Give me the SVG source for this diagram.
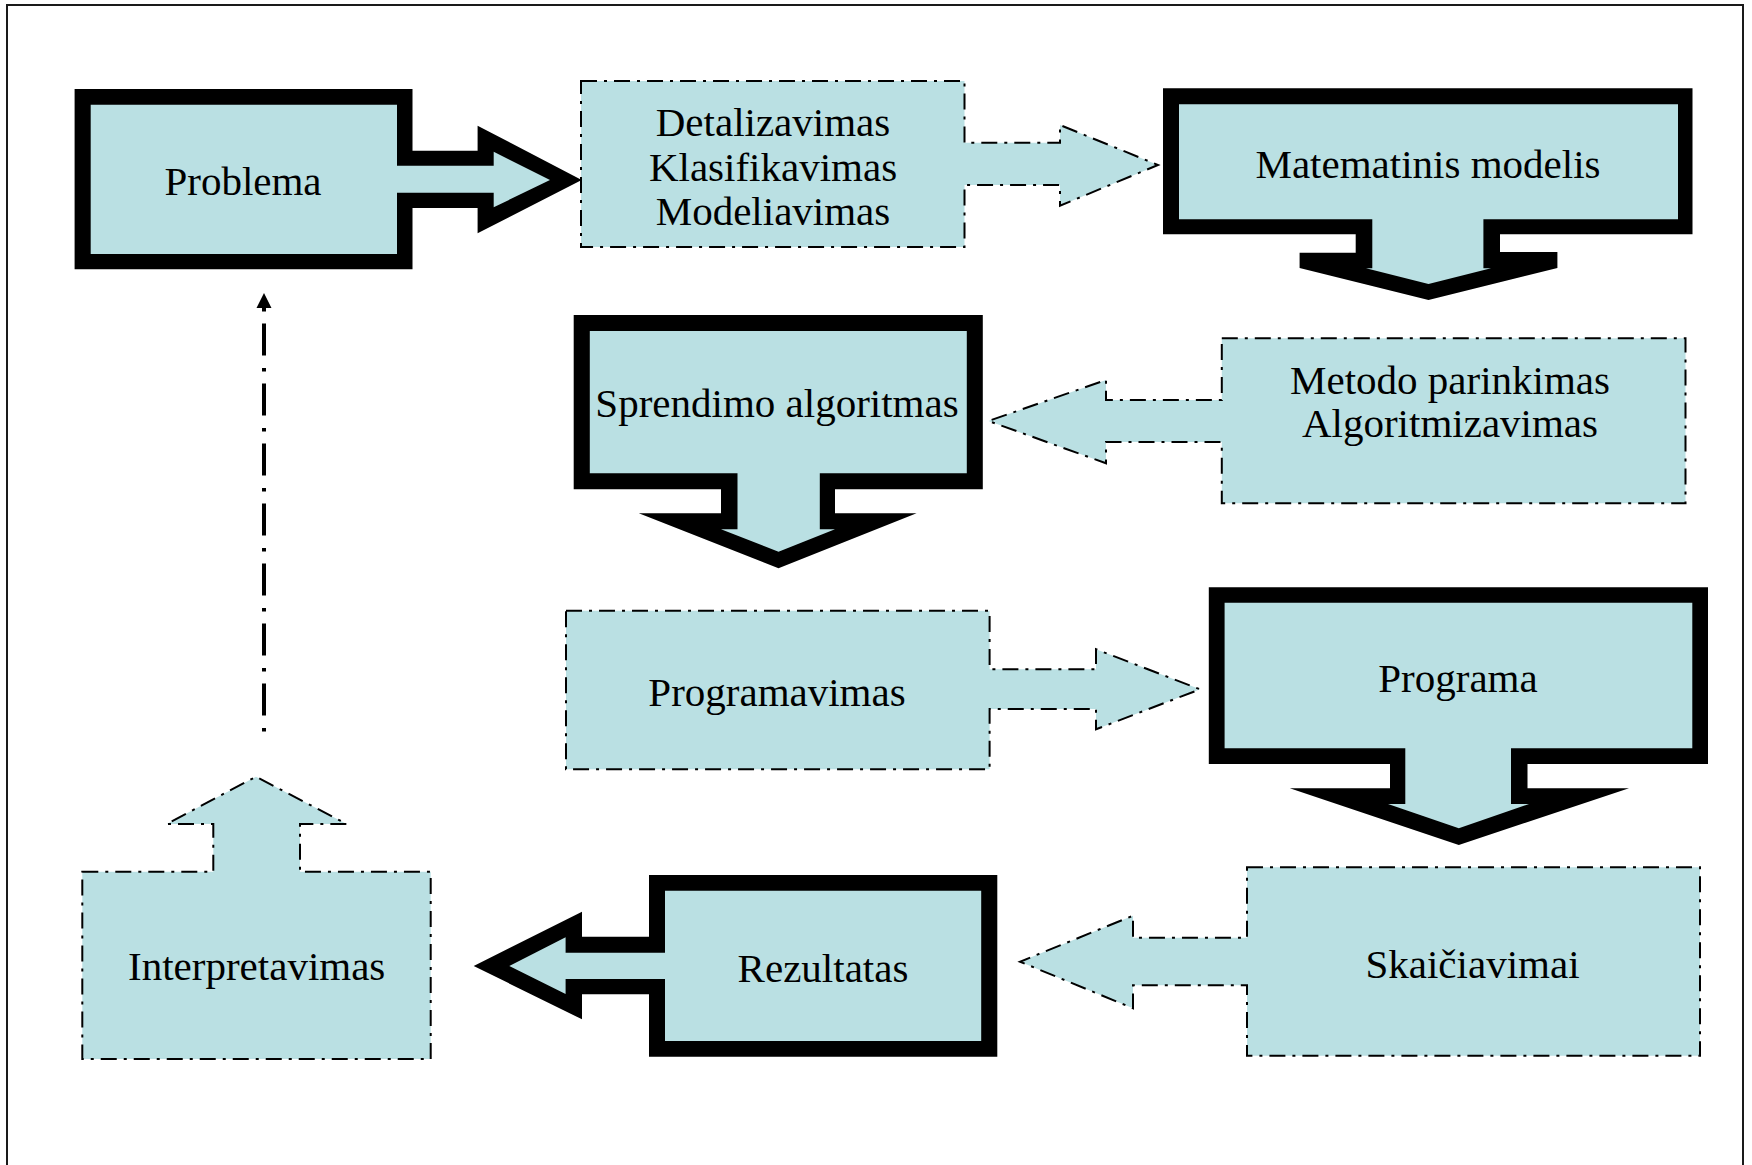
<svg xmlns="http://www.w3.org/2000/svg" width="1752" height="1165" viewBox="0 0 1752 1165">
<style>
.frame{fill:none;stroke:#1a1a1a;stroke-width:2}
.outer{fill:#000}
.inner{fill:#BAE0E3}
.dash{fill:#BAE0E3;stroke:#000;stroke-width:2;stroke-dasharray:16 7 3 7;stroke-linejoin:miter}
.t{font-family:"Liberation Serif","DejaVu Serif",serif;font-size:41px;text-anchor:middle;fill:#000}
.conn{fill:none;stroke:#000;stroke-width:4;stroke-dasharray:3.5 12.5 32 12}
</style>
<defs>
<marker id="ah" markerWidth="20" markerHeight="16" viewBox="0 0 20 16" refX="0" refY="8" orient="auto" markerUnits="userSpaceOnUse">
<path d="M0 6 L3 6 L3 0.5 L18 8 L3 15.5 L3 10 L0 10 Z" fill="#000"/>
</marker>
</defs>
<rect class="frame" x="7" y="5" width="1736" height="1180"/>

<g id="connectors">
<path class="conn" d="M264 731.5 L264 311" marker-end="url(#ah)"/>
</g>

<g id="problema">
<path class="outer" d="M74.6 89 L412.5 89 L412.5 150.7 L477.6 150.7 L477.6 125.7 L581.7 180 L477.6 233.3 L477.6 208 L412.5 208 L412.5 269.3 L74.6 269.3 Z"/>
<path class="inner" d="M90.7 104.7 L397 104.7 L397 165.7 L493.7 165.7 L493.7 151.7 L550 180 L493.7 207.3 L493.7 192.7 L397 192.7 L397 254 L90.7 254 Z"/>
<text class="t" x="243" y="194.5">Problema</text>
</g>

<g id="detalizavimas">
<path class="dash" d="M581 81 L964.5 81 L964.5 142.7 L1060 142.7 L1060 125 L1158 165 L1060 205.7 L1060 185 L964.5 185 L964.5 247 L581 247 Z"/>
<text class="t" x="773" y="136">Detalizavimas</text>
<text class="t" x="773" y="180.5">Klasifikavimas</text>
<text class="t" x="773" y="225">Modeliavimas</text>
</g>

<g id="matematinis-modelis">
<path class="outer" d="M1163 88.3 L1692.5 88.3 L1692.5 234.3 L1500 234.3 L1500 252 L1557.4 252 L1557.4 268 L1428.5 300 L1299.6 268 L1299.6 252.7 L1355.7 252.7 L1355.7 234.3 L1163 234.3 Z"/>
<path class="inner" d="M1179 104.3 L1678 104.3 L1678 219.3 L1483.4 219.3 L1483.4 268.3 L1491 268.3 L1428.5 284 L1366 268.3 L1372.3 268.3 L1372.3 219.3 L1179 219.3 Z"/>
<text class="t" x="1428" y="177.5">Matematinis modelis</text>
</g>

<g id="sprendimo-algoritmas">
<path class="outer" d="M573.7 315 L982.8 315 L982.8 489.3 L835 489.3 L835 513.3 L916.6 513.3 L778.5 568.3 L638.8 513.3 L721 513.3 L721 489.3 L573.7 489.3 Z"/>
<path class="inner" d="M589.8 331 L966.8 331 L966.8 473.3 L819.8 473.3 L819.8 529.3 L835 529.3 L778.5 551.7 L721 529.3 L737.5 529.3 L737.5 473.3 L589.8 473.3 Z"/>
<text class="t" x="777" y="417">Sprendimo algoritmas</text>
</g>

<g id="metodo-parinkimas">
<path class="dash" d="M1221.8 338.3 L1685.5 338.3 L1685.5 503.3 L1221.8 503.3 L1221.8 442 L1106 442 L1106 463.3 L988.5 421 L1106 380 L1106 400 L1221.8 400 Z"/>
<text class="t" x="1450" y="394">Metodo parinkimas</text>
<text class="t" x="1450" y="436.5">Algoritmizavimas</text>
</g>

<g id="programavimas">
<path class="dash" d="M566 610.7 L989.6 610.7 L989.6 669.3 L1096 669.3 L1096 649.3 L1200 689.3 L1096 729.3 L1096 709 L989.6 709 L989.6 769.3 L566 769.3 Z"/>
<text class="t" x="777" y="706">Programavimas</text>
</g>

<g id="programa">
<path class="outer" d="M1208.8 587.3 L1708 587.3 L1708 764 L1527.5 764 L1527.5 788.3 L1629 788.3 L1458.8 845 L1289.8 788.3 L1390 788.3 L1390 764 L1208.8 764 Z"/>
<path class="inner" d="M1224.6 602.7 L1692.3 602.7 L1692.3 748.3 L1511 748.3 L1511 804 L1529 804 L1458.8 828.3 L1388 804 L1405.3 804 L1405.3 748.3 L1224.6 748.3 Z"/>
<text class="t" x="1458" y="692">Programa</text>
</g>

<g id="skaiciavimai">
<path class="dash" d="M1247 867.3 L1700 867.3 L1700 1055.7 L1247 1055.7 L1247 985.3 L1133 985.3 L1133 1008.3 L1020 961.7 L1133 915.7 L1133 937.7 L1247 937.7 Z"/>
<text class="t" x="1472.5" y="978">Skaičiavimai</text>
</g>

<g id="rezultatas">
<path class="outer" d="M649 875 L997.3 875 L997.3 1056.7 L649 1056.7 L649 994.3 L582 994.3 L582 1019.3 L473.7 966 L582 911.7 L582 936.7 L649 936.7 Z"/>
<path class="inner" d="M665 890.7 L981.2 890.7 L981.2 1041 L665 1041 L665 979 L565.6 979 L565.6 994 L509.3 966 L565.6 937.3 L565.6 952.7 L665 952.7 Z"/>
<text class="t" x="823" y="982">Rezultatas</text>
</g>

<g id="interpretavimas">
<path class="dash" d="M82.3 871.7 L213.3 871.7 L213.3 824 L166.7 824 L256 776.7 L346.7 824 L300 824 L300 871.7 L430.7 871.7 L430.7 1059 L82.3 1059 Z"/>
<text class="t" x="256.7" y="980">Interpretavimas</text>
</g>
</svg>
